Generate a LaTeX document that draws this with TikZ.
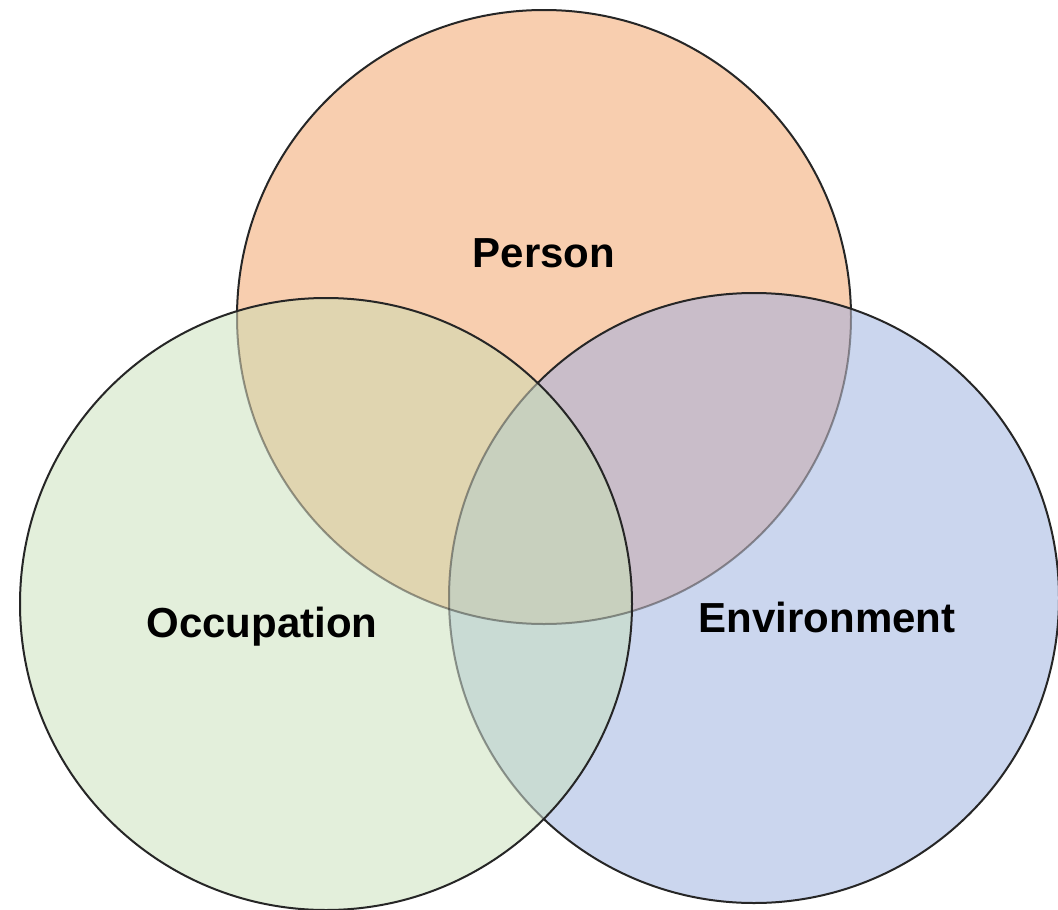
\documentclass[tikz,border=0pt]{standalone}
\usepackage{fontspec}
\setmainfont{Liberation Sans}
\definecolor{cP}{HTML}{F8CEAF}
\definecolor{cO}{HTML}{E3EFDB}
\definecolor{cE}{HTML}{CBD6EE}
\definecolor{cPO}{HTML}{E0D5B0}
\definecolor{cPE}{HTML}{C9BDC9}
\definecolor{cOE}{HTML}{C9DBD4}
\definecolor{cPOE}{HTML}{C8D0BE}
\definecolor{edge}{HTML}{262626}
\tikzset{
  darkline/.style={draw=edge, line width=2pt},
  lightline/.style={draw=edge, draw opacity=0.45, line width=2pt},
  lab/.style={anchor=base, inner sep=0pt, font=\fontsize{42}{48}\selectfont\bfseries, text=black},
}
\def\rP{307pt}
\def\rO{306pt}
\def\rE{305pt}
\begin{document}
\begin{tikzpicture}[x=1pt,y=-1pt]
\useasboundingbox (0,0) rectangle (1058,910);
\fill[white] (0,0) rectangle (1058,910);
\coordinate (P) at (544,317);
\coordinate (O) at (326,604);
\coordinate (E) at (754,598);
% base fills
\fill[cP] (P) circle[radius=\rP];
\fill[cE] (E) circle[radius=\rE];
\fill[cO] (O) circle[radius=\rO];
% pairwise overlaps
\begin{scope}\clip (P) circle[radius=\rP]; \fill[cPO] (O) circle[radius=\rO]; \end{scope}
\begin{scope}\clip (P) circle[radius=\rP]; \fill[cPE] (E) circle[radius=\rE]; \end{scope}
\begin{scope}\clip (O) circle[radius=\rO]; \fill[cOE] (E) circle[radius=\rE]; \end{scope}
\begin{scope}\clip (P) circle[radius=\rP]; \clip (O) circle[radius=\rO]; \fill[cPOE] (E) circle[radius=\rE]; \end{scope}
% Person outline: dark outside O and E
\begin{scope}[even odd rule]
  \clip (-20,-20) rectangle (1080,930) (O) circle[radius=\rO];
  \begin{scope}[even odd rule]
    \clip (-20,-20) rectangle (1080,930) (E) circle[radius=\rE];
    \draw[darkline] (P) circle[radius=\rP];
  \end{scope}
\end{scope}
% Person outline: light inside O
\begin{scope}\clip (O) circle[radius=\rO]; \draw[lightline] (P) circle[radius=\rP]; \end{scope}
% Person outline: light inside E but outside O
\begin{scope}[even odd rule]
  \clip (-20,-20) rectangle (1080,930) (O) circle[radius=\rO];
  \begin{scope}\clip (E) circle[radius=\rE]; \draw[lightline] (P) circle[radius=\rP]; \end{scope}
\end{scope}
% Environment outline: dark outside O, light inside O
\begin{scope}[even odd rule]
  \clip (-20,-20) rectangle (1080,930) (O) circle[radius=\rO];
  \draw[darkline] (E) circle[radius=\rE];
\end{scope}
\begin{scope}\clip (O) circle[radius=\rO]; \draw[lightline] (E) circle[radius=\rE]; \end{scope}
% Occupation outline
\draw[darkline] (O) circle[radius=\rO];
% labels
\node[lab] (lP) at (544,267) {Person};
\node[lab] (lO) at (262,637) {Occupation};
\node[lab] (lE) at (827,632) {Environment};
\end{tikzpicture}
\end{document}
